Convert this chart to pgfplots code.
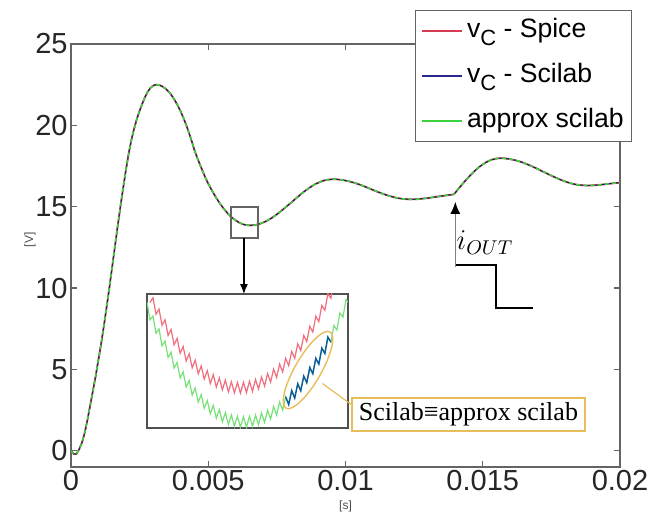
\documentclass[border=0pt]{standalone}
\usepackage{pgfplots}
\pgfplotsset{compat=1.18}
\usepackage{pgfplotstable}
\usepackage{fontspec}
\setmainfont{Liberation Sans}
\newfontfamily\timesfont{Liberation Serif}
\usetikzlibrary{arrows.meta}

\definecolor{spice}{RGB}{215,60,85}
\definecolor{scilab}{RGB}{40,40,140}
\definecolor{approx}{RGB}{60,210,60}
\definecolor{inred}{RGB}{240,110,125}
\definecolor{ingreen}{RGB}{120,225,120}
\definecolor{inblue}{RGB}{15,90,160}
\definecolor{gold}{RGB}{232,190,90}
\definecolor{axgray}{RGB}{100,100,100}

\newcommand{\vcsub}{v\raisebox{-0.55ex}{\fontsize{11bp}{11bp}\selectfont C}}

% capacitor voltage
\pgfplotstableread{
t v
0 0
0.0001 -0.2
0.0002 -0.2
0.0003 0.1
0.0004 0.5
0.0005 1.1
0.0006 1.9
0.0007 2.8
0.0008 3.7
0.0009 4.6
0.0010 5.6
0.0011 6.6
0.0012 7.7
0.0013 8.85
0.0014 10.05
0.0015 11.3
0.0016 12.55
0.0017 13.8
0.0018 15.0
0.0019 16.15
0.0020 17.25
0.0021 18.25
0.0022 19.1
0.0023 19.8
0.0024 20.4
0.0025 20.9
0.0026 21.35
0.0027 21.75
0.0028 22.08
0.0029 22.31
0.0030 22.45
0.0031 22.5
0.0032 22.48
0.0033 22.42
0.0034 22.31
0.0035 22.17
0.0036 21.99
0.0037 21.76
0.0038 21.49
0.0039 21.18
0.0040 20.83
0.0041 20.44
0.0042 20.01
0.0043 19.53
0.0044 19.02
0.0045 18.46
0.0046 18.0
0.0047 17.58
0.0048 17.17
0.0049 16.77
0.0050 16.42
0.0051 16.1
0.0052 15.8
0.0053 15.52
0.0054 15.26
0.0055 15.02
0.0056 14.80
0.0057 14.61
0.0058 14.43
0.0059 14.28
0.0060 14.16
0.0061 14.05
0.0062 13.97
0.0063 13.90
0.0064 13.87
0.0065 13.85
0.0067 13.87
0.0069 13.96
0.0071 14.10
0.0073 14.29
0.0075 14.53
0.0077 14.80
0.0079 15.08
0.0081 15.37
0.0083 15.66
0.0085 15.94
0.0087 16.18
0.0089 16.39
0.0091 16.54
0.0093 16.65
0.00954 16.69
0.0097 16.68
0.0099 16.64
0.0101 16.57
0.0103 16.48
0.0105 16.37
0.0107 16.24
0.0109 16.10
0.0111 15.96
0.0113 15.83
0.0115 15.71
0.0117 15.61
0.0119 15.53
0.0121 15.475
0.01235 15.45
0.0126 15.46
0.0130 15.53
0.0134 15.63
0.01395 15.76
0.0141 16.07
0.0143 16.47
0.0145 16.85
0.0147 17.19
0.0149 17.48
0.0151 17.71
0.0153 17.88
0.0155 17.96
0.01563 17.98
0.0158 17.97
0.0160 17.92
0.0162 17.85
0.0164 17.75
0.0166 17.62
0.0168 17.48
0.0170 17.32
0.0172 17.15
0.0174 16.99
0.0176 16.83
0.0178 16.68
0.0180 16.55
0.0182 16.44
0.0184 16.36
0.0186 16.32
0.0188 16.30
0.0190 16.31
0.0193 16.35
0.0196 16.41
0.0200 16.48
}\vcdata

% zoomed detail (normalised inset units)
\pgfplotstableread{
x y
1.5 93.7
3 97.2
4.5 84.9
6 88.7
7.5 76.7
9 80.8
10.5 69.1
12 73.5
13.5 62.1
15 66.9
16.5 55.8
18 60.8
19.5 50.0
21 55.4
22.5 44.9
24 50.6
25.5 40.4
27 46.3
28.5 36.5
30 42.8
31.5 33.2
33 39.8
34.5 30.5
36 37.4
37.5 28.5
39 35.7
40.5 27.0
42 34.5
43.5 26.2
45 34.0
46.5 26.0
48 34.1
49.5 26.4
51 34.9
52.5 27.4
54 36.2
55.5 29.1
57 38.1
58.5 31.3
60 40.7
61.5 34.2
63 43.9
64.5 37.7
66 47.7
67.5 41.8
69 52.1
70.5 46.5
72 57.1
73.5 51.9
75 62.8
76.5 57.8
78 69.0
79.5 64.4
81 75.9
82.5 71.6
84 83.4
85.5 79.4
87 91.5
88.5 87.8
90 100.2
91.5 96.8
93 109.5
}\zoomred

\pgfplotstableread{
x y
0 94.0
1.5 80.7
3 83.6
4.5 70.7
6 73.9
7.5 61.3
9 64.9
10.5 52.7
12 56.6
13.5 44.7
15 48.9
16.5 37.3
18 41.9
19.5 30.6
21 35.5
22.5 24.6
24 29.9
25.5 19.3
27 24.9
28.5 14.6
30 20.5
31.5 10.6
33 16.8
34.5 7.3
36 13.8
37.5 4.6
39 11.5
40.5 2.6
42 9.8
43.5 1.25
45 8.8
46.5 0.6
48 8.5
49.5 0.6
51 8.8
52.5 1.2
54 9.7
55.5 2.4
57 11.2
58.5 4.2
60 13.3
61.5 6.6
63 16.1
64.5 9.6
66 19.4
67.5 13.3
69 23.3
70.5 17.5
72 27.9
73.5 22.3
75 33.0
76.5 27.8
78 38.7
79.5 33.8
81 45.1
82.5 40.5
84 52.0
85.5 47.7
87 59.6
88.5 55.6
90 67.8
91.5 64.1
93 76.5
94.5 73.1
96 85.9
97.5 82.8
99 95.9
100.5 93.1
}\zoomgreen

\pgfplotstableread{
x y
69 23.3
70.5 17.5
72 27.9
73.5 22.3
75 33.0
76.5 27.8
78 38.7
79.5 33.8
81 45.1
82.5 40.5
84 52.0
85.5 47.7
87 59.6
88.5 55.6
90 67.8
91.5 64.1
}\zoomblue

\begin{document}
\begin{tikzpicture}
\begin{axis}[
    name=main, at={(0,0)}, anchor=south west,
    scale only axis, width=274.5bp, height=211.5bp,
    xmin=0, xmax=0.02, ymin=-1, ymax=25,
    xtick={0,0.005,0.01,0.015,0.02},
    xticklabels={0,0.005,0.01,0.015,0.02},
    scaled x ticks=false,
    ytick={0,5,10,15,20,25},
    /pgf/number format/assume math mode=true,
    tick label style={font=\fontsize{14.5bp}{14.5bp}\selectfont, text=black!85, inner sep=1.5bp},
    axis line style={axgray, line width=0.7bp},
    major tick style={axgray, line width=0.6bp},
    major tick length=3bp,
    xlabel={[s]}, ylabel={[V]},
    xlabel style={font=\fontsize{6bp}{6bp}\selectfont, text=black!70, at={(rel axis cs:0.5,-0.092)}, anchor=center},
    ylabel style={font=\fontsize{6bp}{6bp}\selectfont, text=black!70, at={(rel axis cs:-0.0747,0.537)}, anchor=center},
    legend style={at={(0.6266,1.0804)}, anchor=north west, draw=axgray, line width=0.6bp, fill=white,
        inner xsep=3bp, inner ysep=3bp, row sep=8bp,
        font=\fontsize{13.3bp}{13.3bp}\selectfont,
        nodes={inner sep=1bp, text height=9.5bp, text depth=3bp},
        /tikz/every odd column/.append style={column sep=1bp}},
    legend cell align=left,
    legend image code/.code={\draw[#1, line width=0.7bp] (0bp,0bp) -- (20bp,0bp);},
]
\addplot[spice, line width=0.9bp, forget plot] table[x=t, y=v] {\vcdata};
\addplot[scilab!70!black, line width=0.5bp, forget plot] table[x=t, y=v] {\vcdata};
\addplot[approx, line width=0.8bp, dash pattern=on 2bp off 1.6bp, forget plot] table[x=t, y=v] {\vcdata};

\addlegendimage{spice}
\addlegendentry{\vcsub{} - Spice}
\addlegendimage{scilab}
\addlegendentry{\vcsub{} - Scilab}
\addlegendimage{approx}
\addlegendentry{approx scilab}

% zoom window and arrow to the inset
\draw[axgray, line width=0.6bp] (axis cs:0.00583,13.07) rectangle (axis cs:0.00681,14.98);
\draw[black, line width=0.6bp, -{Latex[length=5bp,width=4bp]}] (axis cs:0.0063,13.07) -- (axis cs:0.0063,9.63);

% load step annotation
\draw[gray, line width=0.6bp, -{Latex[black,length=6bp,width=5bp]}] (axis cs:0.014,11.3) -- (axis cs:0.014,15.3);
\draw[black, line width=1.2bp] (axis cs:0.01403,11.41) -- (axis cs:0.01548,11.41) -- (axis cs:0.01548,8.77) -- (axis cs:0.01683,8.77);
\node[font=\fontsize{14bp}{14bp}\selectfont] at (axis cs:0.01508,12.8) {$i_{OUT}$};

\coordinate (insetSW) at (rel axis cs:0.1384,0.0922);
\coordinate (ell) at (axis cs:0.008634,4.96);
\coordinate (conA) at (axis cs:0.00916,4.13);
\coordinate (conB) at (axis cs:0.010237,2.81);
\coordinate (boxc) at (axis cs:0.01448,2.225);
\end{axis}

\begin{axis}[
    at={(insetSW)}, anchor=south west,
    scale only axis, width=100.5bp, height=67bp,
    xmin=0, xmax=100, ymin=0, ymax=100,
    ticks=none,
    axis line style={axgray!80!black, line width=0.7bp},
    axis background/.style={fill=white},
]
\addplot[inred, line width=0.6bp] table {\zoomred};
\addplot[ingreen, line width=0.6bp] table {\zoomgreen};
\addplot[inblue, line width=0.7bp] table {\zoomblue};
\end{axis}

\draw[gold, line width=0.7bp, rotate around={60:(ell)}] (ell) ellipse [x radius=22bp, y radius=6.5bp];
\draw[gold, line width=0.6bp] (conA) -- (conB);
\node[draw=gold, fill=white, line width=0.6bp, minimum width=116.5bp, minimum height=16.5bp, inner sep=0pt,
      font=\timesfont\fontsize{13bp}{13bp}\selectfont] at (boxc) {Scilab≡approx scilab};

\pgfresetboundingbox
\path (-35.5bp,-24bp) rectangle (295.5bp,233.5bp);
\end{tikzpicture}
\end{document}
